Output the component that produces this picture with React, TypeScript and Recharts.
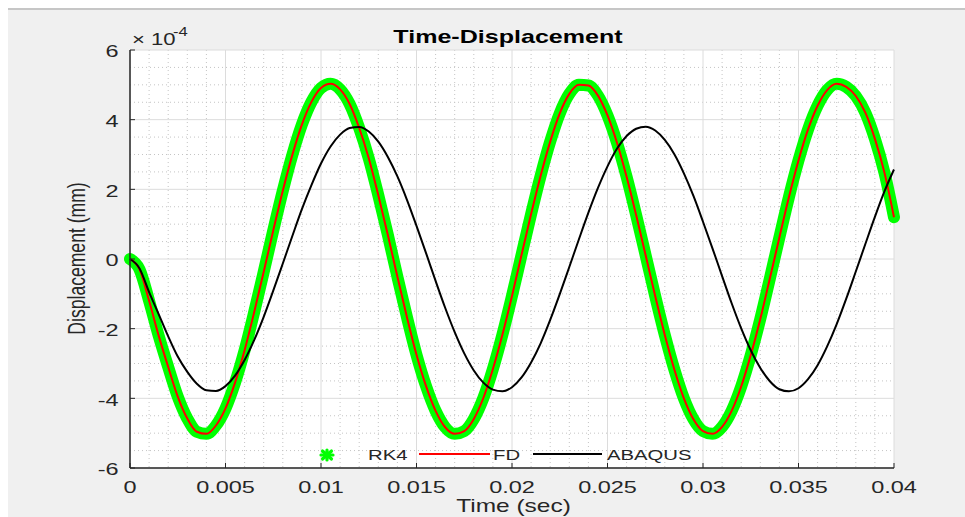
import React from 'react';
import { LineChart, Line, XAxis, YAxis, CartesianGrid, Legend } from 'recharts';

// time in seconds, displacement in units of 1e-4 mm (axis shows the x10^-4 factor)
const timeSec = [
  0, 0.0005, 0.001, 0.0015, 0.002, 0.0025, 0.003, 0.0035, 0.004, 0.0045,
  0.005, 0.0055, 0.006, 0.0065, 0.007, 0.0075, 0.008, 0.0085, 0.009, 0.0095,
  0.01, 0.0105, 0.011, 0.0115, 0.012, 0.0125, 0.013, 0.0135, 0.014, 0.0145,
  0.015, 0.0155, 0.016, 0.0165, 0.017, 0.0175, 0.018, 0.0185, 0.019, 0.0195,
  0.02, 0.0205, 0.021, 0.0215, 0.022, 0.0225, 0.023, 0.0235, 0.024, 0.0245,
  0.025, 0.0255, 0.026, 0.0265, 0.027, 0.0275, 0.028, 0.0285, 0.029, 0.0295,
  0.03, 0.0305, 0.031, 0.0315, 0.032, 0.0325, 0.033, 0.0335, 0.034, 0.0345,
  0.035, 0.0355, 0.036, 0.0365, 0.037, 0.0375, 0.038, 0.0385, 0.039, 0.0395,
  0.04,
];

const rk4Disp = [
  0, -0.3, -1.2, -2.2, -3.1, -3.95, -4.58, -4.96, -5.02, -4.78,
  -4.29, -3.55, -2.62, -1.53, -0.37, 0.82, 1.96, 2.99, 3.86, 4.51,
  4.91, 5.03, 4.87, 4.45, 3.76, 2.89, 1.83, 0.69, -0.51, -1.67,
  -2.75, -3.65, -4.36, -4.83, -5.02, -4.94, -4.59, -3.99, -3.16, -2.17,
  -1.06, 0.12, 1.29, 2.39, 3.37, 4.18, 4.74, 5.0, 4.98, 4.69,
  4.12, 3.33, 2.36, 1.26, 0.1, -1.07, -2.18, -3.17, -4.0, -4.6,
  -4.94, -5.02, -4.82, -4.36, -3.66, -2.76, -1.72, -0.56, 0.62, 1.78,
  2.83, 3.72, 4.4, 4.85, 5.03, 4.94, 4.68, 4.2, 3.45, 2.48,
  1.2,
];

const fdDisp = [
  0, -0.3, -1.2, -2.2, -3.1, -3.95, -4.58, -4.96, -5.02, -4.78,
  -4.29, -3.55, -2.62, -1.53, -0.37, 0.82, 1.96, 2.99, 3.86, 4.51,
  4.91, 5.03, 4.87, 4.45, 3.76, 2.89, 1.83, 0.69, -0.51, -1.67,
  -2.75, -3.65, -4.36, -4.83, -5.02, -4.94, -4.59, -3.99, -3.16, -2.17,
  -1.06, 0.12, 1.29, 2.39, 3.37, 4.18, 4.74, 5.0, 4.98, 4.69,
  4.12, 3.33, 2.36, 1.26, 0.1, -1.07, -2.18, -3.17, -4.0, -4.6,
  -4.94, -5.02, -4.82, -4.36, -3.66, -2.76, -1.72, -0.56, 0.62, 1.78,
  2.83, 3.72, 4.4, 4.85, 5.03, 4.94, 4.68, 4.2, 3.45, 2.48,
  1.2,
];

const abaqusDisp = [
  0, -0.27, -0.95, -1.58, -2.22, -2.8, -3.24, -3.58, -3.77, -3.79,
  -3.65, -3.35, -2.9, -2.33, -1.66, -0.91, -0.13, 0.66, 1.43, 2.12,
  2.74, 3.23, 3.57, 3.76, 3.79, 3.66, 3.37, 2.93, 2.37, 1.7,
  0.95, 0.17, -0.63, -1.4, -2.1, -2.71, -3.2, -3.55, -3.75, -3.8,
  -3.68, -3.4, -2.97, -2.42, -1.75, -1.01, -0.23, 0.56, 1.33, 2.04,
  2.66, 3.17, 3.53, 3.74, 3.8, 3.69, 3.42, 3.01, 2.46, 1.81,
  1.07, 0.3, -0.49, -1.27, -1.99, -2.62, -3.13, -3.51, -3.74, -3.8,
  -3.71, -3.45, -3.05, -2.51, -1.87, -1.14, -0.36, 0.43, 1.21, 1.94,
  2.57,
];

const xTicks = [0, 0.005, 0.01, 0.015, 0.02, 0.025, 0.03, 0.035, 0.04];
const yTicks = [-6, -4, -2, 0, 2, 4, 6];
const xMinorTicks = [
  0.001, 0.002, 0.003, 0.004, 0.006, 0.007, 0.008, 0.009,
  0.011, 0.012, 0.013, 0.014, 0.016, 0.017, 0.018, 0.019,
  0.021, 0.022, 0.023, 0.024, 0.026, 0.027, 0.028, 0.029,
  0.031, 0.032, 0.033, 0.034, 0.036, 0.037, 0.038, 0.039,
];
const yMinorTicks = [
  -5.5, -5, -4.5, -3.5, -3, -2.5, -1.5, -1, -0.5,
  0.5, 1, 1.5, 2.5, 3, 3.5, 4.5, 5, 5.5,
];

const seriesNames = ['RK4', 'FD', 'ABAQUS'];
const seriesColors = ['#00ff00', '#ff0000', '#000000'];

const data = timeSec.map((t, i) => ({
  t,
  rk4: rk4Disp[i],
  fd: fdDisp[i],
  abaqus: abaqusDisp[i],
}));

const FONT = "'Liberation Sans', Arial, Helvetica, sans-serif";
const AXIS_COLOR = '#262626';
// the picture is stretched sideways, so text is widened to match
const STRETCH = 1.38;

function XTickLabel(props: any) {
  const { x, y, payload } = props;
  return (
    <text
      transform={`translate(${x},${y + 24.7}) scale(${STRETCH},1)`}
      textAnchor="middle"
      fontSize={17}
      fontFamily={FONT}
      fill={AXIS_COLOR}
    >
      {String(payload.value)}
    </text>
  );
}

function YTickLabel(props: any) {
  const { x, y, payload } = props;
  return (
    <text
      transform={`translate(${x - 11.5},${y + 7.4}) scale(${STRETCH},1)`}
      textAnchor="end"
      fontSize={17}
      fontFamily={FONT}
      fill={AXIS_COLOR}
    >
      {String(payload.value)}
    </text>
  );
}

// legend layout, x positions inside the legend box
const legendIconStart = [31, 129, 243];
const legendIconEnd = [43, 200, 312];
const legendTextX = [78, 203, 317];

function renderLegend() {
  return (
    <svg width={420} height={30} style={{ overflow: 'visible' }}>
      {seriesNames.map((name, i) => {
        const cx = (legendIconStart[i] + legendIconEnd[i]) / 2;
        return (
          <g key={name}>
            {i === 0 ? (
              <g stroke={seriesColors[i]} strokeWidth={3.2} strokeLinecap="round">
                <line x1={cx - 6} y1={15} x2={cx + 6} y2={15} />
                <line x1={cx} y1={10} x2={cx} y2={20} />
                <line x1={cx - 4.5} y1={11} x2={cx + 4.5} y2={19} />
                <line x1={cx - 4.5} y1={19} x2={cx + 4.5} y2={11} />
                <circle cx={cx} cy={15} r={3.5} fill={seriesColors[i]} stroke="none" />
              </g>
            ) : (
              <line
                x1={legendIconStart[i]}
                y1={14}
                x2={legendIconEnd[i]}
                y2={14}
                stroke={seriesColors[i]}
                strokeWidth={2}
              />
            )}
            <text
              transform={`translate(${legendTextX[i]},20) scale(1.4,1)`}
              fontSize={14.5}
              fontFamily={FONT}
              fill={AXIS_COLOR}
            >
              {name}
            </text>
          </g>
        );
      })}
    </svg>
  );
}

export default function App() {
  return (
    <div style={{ padding: '8px 0 0 8px' }}>
      <style>{'body{margin:0;overflow:hidden}'}</style>
      <div style={{ position: 'relative', width: 957, height: 509, background: '#f0f0f0', overflow: 'hidden' }}>
        <div style={{ position: 'absolute', left: 0, top: 0, width: 957, height: 2, background: '#c6c6c6' }} />
        <LineChart
          width={957}
          height={509}
          data={data}
          margin={{ top: 42, right: 71, bottom: 19, left: 82 }}
        >
          <CartesianGrid
            verticalValues={xMinorTicks}
            horizontalValues={yMinorTicks}
            stroke="#c4c4c4"
            strokeDasharray="1 3"
            fill="#ffffff"
          />
          <CartesianGrid stroke="#dcdcdc" />
          <XAxis
            dataKey="t"
            type="number"
            domain={[0, 0.04]}
            ticks={xTicks}
            interval={0}
            height={30}
            tickSize={-5}
            tickMargin={5}
            tick={XTickLabel}
            axisLine={{ stroke: AXIS_COLOR, strokeWidth: 1.5 }}
            tickLine={{ stroke: AXIS_COLOR }}
          />
          <XAxis
            xAxisId="top"
            orientation="top"
            type="number"
            domain={[0, 0.04]}
            ticks={xTicks}
            interval={0}
            height={0}
            tickSize={-5}
            tick={false}
            axisLine={{ stroke: AXIS_COLOR, strokeWidth: 1.5 }}
            tickLine={{ stroke: AXIS_COLOR }}
          />
          <YAxis
            type="number"
            domain={[-6, 6]}
            ticks={yTicks}
            interval={0}
            width={40}
            tickSize={-5}
            tickMargin={5}
            tick={YTickLabel}
            axisLine={{ stroke: AXIS_COLOR, strokeWidth: 1.5 }}
            tickLine={{ stroke: AXIS_COLOR }}
          />
          <YAxis
            yAxisId="right"
            orientation="right"
            type="number"
            domain={[-6, 6]}
            ticks={yTicks}
            interval={0}
            width={0}
            tickSize={-5}
            tick={false}
            axisLine={{ stroke: AXIS_COLOR, strokeWidth: 1.5 }}
            tickLine={{ stroke: AXIS_COLOR }}
          />
          <Line
            dataKey="rk4"
            name={seriesNames[0]}
            type="monotone"
            stroke={seriesColors[0]}
            strokeWidth={12}
            strokeLinecap="round"
            strokeLinejoin="round"
            dot={false}
            activeDot={false}
            isAnimationActive={false}
          />
          <Line
            dataKey="fd"
            name={seriesNames[1]}
            type="monotone"
            stroke={seriesColors[1]}
            strokeWidth={2}
            dot={false}
            activeDot={false}
            isAnimationActive={false}
          />
          <Line
            dataKey="abaqus"
            name={seriesNames[2]}
            type="monotone"
            stroke={seriesColors[2]}
            strokeWidth={2}
            dot={false}
            activeDot={false}
            isAnimationActive={false}
          />
          <Legend
            layout="horizontal"
            verticalAlign="middle"
            align="center"
            wrapperStyle={{ left: 282, top: 432, width: 420, height: 30 }}
            content={renderLegend}
          />
        </LineChart>
        <svg
          width={957}
          height={509}
          style={{ position: 'absolute', left: 0, top: 0, pointerEvents: 'none' }}
        >
          <text
            transform="translate(500,34.7) scale(1.32,1)"
            textAnchor="middle"
            fontSize={19}
            fontWeight="bold"
            fontFamily={FONT}
            fill="#000000"
          >
            Time-Displacement
          </text>
          <text
            transform={`translate(124,37) scale(${STRETCH},1)`}
            fontSize={16}
            fontFamily={FONT}
            fill={AXIS_COLOR}
          >
            {'\u00d7 10'}
          </text>
          <text
            transform={`translate(165,27.6) scale(${STRETCH},1)`}
            fontSize={12}
            fontFamily={FONT}
            fill={AXIS_COLOR}
          >
            -4
          </text>
          <text
            transform="translate(505.5,504) scale(1.4,1)"
            textAnchor="middle"
            fontSize={17.5}
            fontFamily={FONT}
            fill={AXIS_COLOR}
          >
            Time (sec)
          </text>
          <text
            transform={`translate(77,250.5) scale(${STRETCH},1) rotate(-90)`}
            textAnchor="middle"
            fontSize={17.6}
            fontFamily={FONT}
            fill={AXIS_COLOR}
          >
            Displacement (mm)
          </text>
        </svg>
      </div>
    </div>
  );
}
